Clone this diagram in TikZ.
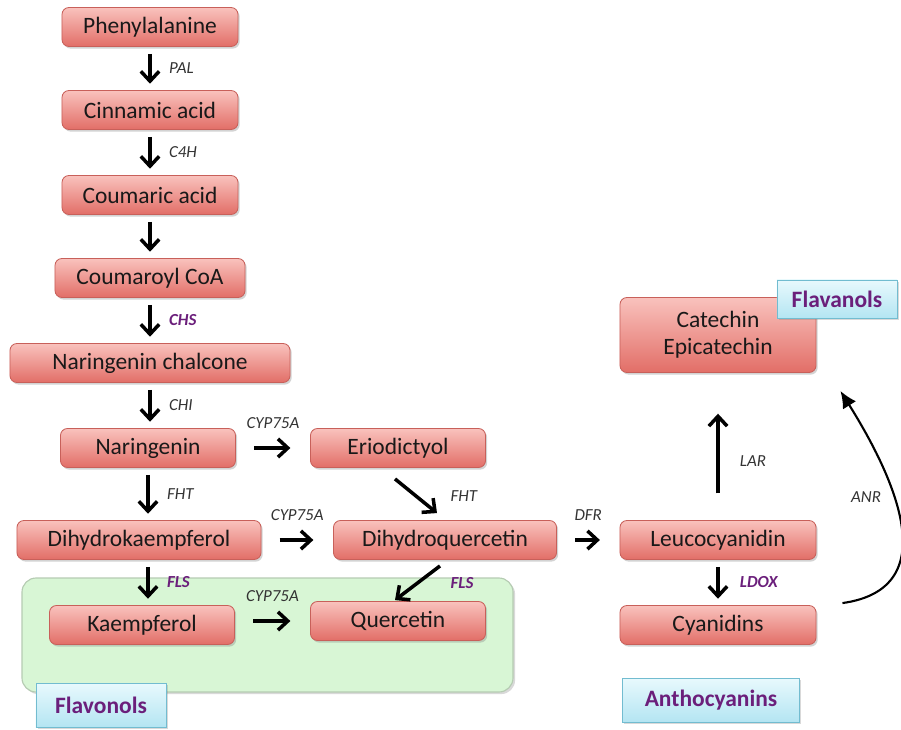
\documentclass[tikz,border=0pt]{standalone}
\usepackage{fontspec}
\setmainfont{Carlito}
\usepackage{xcolor}
\usepackage{tikz}
\usetikzlibrary{calc, positioning, shadows, arrows.meta}

\definecolor{boxtop}{HTML}{F9C2BD}
\definecolor{boxbot}{HTML}{E26E67}
\definecolor{boxline}{HTML}{C8605A}
\definecolor{tagtop}{HTML}{E8F9FD}
\definecolor{tagbot}{HTML}{B4E5F2}
\definecolor{tagline}{HTML}{72BCD0}
\definecolor{tagtext}{HTML}{6B1F7B}
\definecolor{flvfill}{HTML}{D8F6D5}
\definecolor{flvline}{HTML}{B5CBB2}
\definecolor{enzgray}{HTML}{333333}

\tikzset{
  metab/.style={draw=boxline, line width=0.6pt, rounded corners=5pt,
    top color=boxtop, bottom color=boxbot, minimum height=0.975cm,
    text=black!90, font=\fontsize{16.7}{19.5}\selectfont,
    drop shadow={opacity=0.35, shadow xshift=1.2pt, shadow yshift=-1.5pt}},
  tag/.style={draw=tagline, line width=0.6pt, top color=tagtop, bottom color=tagbot,
    text=tagtext, font=\fontsize{16.7}{19.5}\selectfont\bfseries,
    drop shadow={opacity=0.3, shadow xshift=1.2pt, shadow yshift=-1.5pt}},
  enz/.style={text=enzgray, font=\fontsize{12}{14}\selectfont\itshape},
  enzkey/.style={text=tagtext, font=\fontsize{12}{14}\selectfont\bfseries\itshape},
  conv/.style={-{Straight Barb[length=7pt,width=13pt]}, line width=2.5pt},
  vconv/.style={conv, shorten <=5pt, shorten >=4.5pt},
  hconv/.style={conv, shorten <=13pt, shorten >=14pt}
}

\begin{document}
\begin{tikzpicture}[x=0.025cm, y=-0.025cm]
\useasboundingbox (0,0) rectangle (901,730);

\draw[flvline, fill=flvfill, line width=0.8pt, rounded corners=10pt,
  drop shadow={opacity=0.3, shadow xshift=1.5pt, shadow yshift=-1.5pt}]
  (22,578) rectangle (513,692);

\node[metab, minimum width=4.4cm] (phe) at (150,27) {Phenylalanine};
\node[metab, minimum width=4.4cm] (cin) at (150,110) {Cinnamic acid};
\node[metab, minimum width=4.4cm] (cou) at (150,195) {Coumaric acid};
\node[metab, minimum width=4.75cm] (coa) at (150,278) {Coumaroyl CoA};
\node[metab, minimum width=7cm] (chal) at (150,363) {Naringenin chalcone};
\node[metab, minimum width=4.375cm] (nar) at (148,448) {Naringenin};
\node[metab, minimum width=4.375cm] (eri) at (398,448) {Eriodictyol};
\node[metab, minimum width=6.1cm] (dhk) at (139,540) {Dihydrokaempferol};
\node[metab, minimum width=5.575cm] (dhq) at (445,540) {Dihydroquercetin};
\node[metab, minimum width=4.625cm] (kae) at (142,625) {Kaempferol};
\node[metab, minimum width=4.375cm] (que) at (398,621) {Quercetin};
\node[metab, minimum width=4.9cm] (leu) at (718,540) {Leucocyanidin};
\node[metab, minimum width=4.9cm] (cya) at (718,625) {Cyanidins};
\node[metab, minimum width=4.9cm, minimum height=1.875cm, align=center] (cat) at (718,335) {Catechin\\Epicatechin};

\node[tag, minimum width=3cm, minimum height=0.95cm] (flavanols) at (837,299) {Flavanols};
\node[tag, minimum width=3.25cm, minimum height=1.1cm] (flavonols) at (101,705) {Flavonols};
\node[tag, minimum width=4.425cm, minimum height=1.1cm] (antho) at (711,700) {Anthocyanins};

% main stem
\draw[vconv] (phe.south) -- (phe.south |- cin.north) node[enz, midway, right=9pt] {PAL};
\draw[vconv] (cin.south) -- (cin.south |- cou.north) node[enz, midway, right=9pt] {C4H};
\draw[vconv] (cou.south) -- (cou.south |- coa.north);
\draw[vconv] (coa.south) -- (coa.south |- chal.north) node[enzkey, midway, right=9pt] {CHS};
\draw[vconv] (chal.south) -- (chal.south |- nar.north) node[enz, midway, right=9pt] {CHI};
\draw[vconv] (nar.south) -- (nar.south |- dhk.north) node[enz, midway, right=9pt] {FHT};
\draw[vconv] (nar.south |- dhk.south) -- (nar.south |- kae.north) node[enzkey, midway, right=9pt] {FLS};

% side branches
\draw[hconv] (nar.east) -- (eri.west) node[enz, midway, above=9pt] {CYP75A};
\draw[hconv] (dhk.east) -- (dhq.west) node[enz, midway, above=9pt] {CYP75A};
\draw[hconv] (kae.east |- que.east) -- (que.west) node[enz, midway, above=9pt] {CYP75A};
\draw[hconv] (dhq.east) -- (leu.west) node[enz, midway, above=9pt] {DFR};
\draw[conv] ($(eri.south)+(-3,11)$) -- ($(dhq.north)+(-8,-7)$) node[enz, midway, right=20pt] {FHT};
\draw[conv] ($(dhq.south)+(-5,6)$) -- ($(que.north)+(-3,-1)$) node[enzkey, midway, right=19pt] {FLS};
\draw[conv, shorten <=19pt, shorten >=29pt] (leu.north) -- (cat.south) node[enz, pos=0.4, right=11pt] {LAR};
\draw[vconv] (leu.south) -- (cya.north) node[enzkey, midway, right=11pt] {LDOX};

\coordinate (anrfrom) at ($(cya.north east)+(26,-2)$);
\coordinate (anrto) at ($(cat.south east)+(24,18)$);
\draw[-{Latex[length=12pt,width=11pt]}, line width=1.5pt] (anrfrom) to[out=8, in=-58, looseness=1.25] (anrto);
\node[enz] (anr) at (866,497) {ANR};

\end{tikzpicture}
\end{document}
